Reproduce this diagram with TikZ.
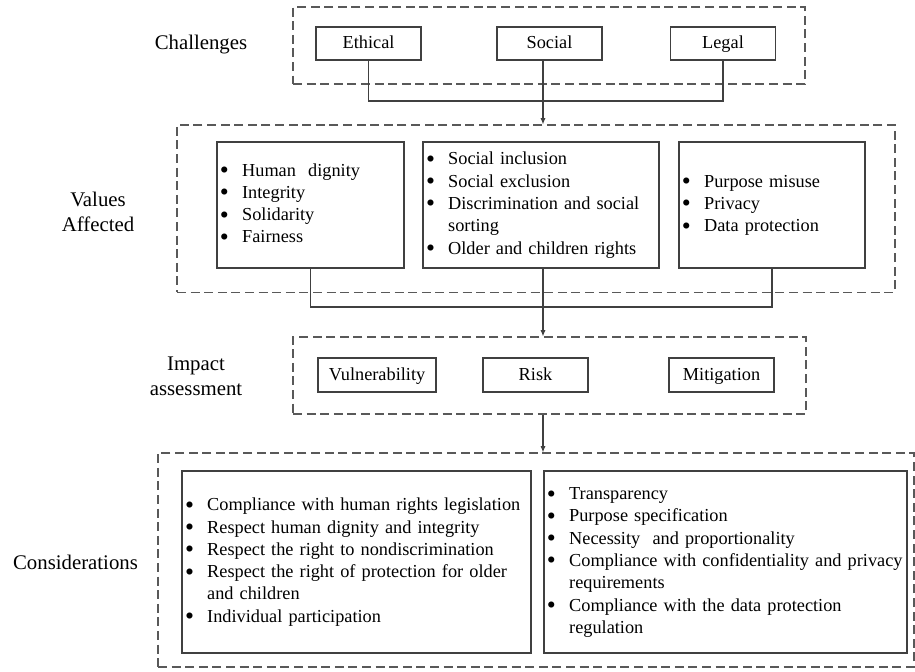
\documentclass[tikz,border=0pt]{standalone}
\usepackage{fontspec}
\setmainfont{Liberation Serif}
\usetikzlibrary{arrows.meta}
\definecolor{framec}{HTML}{404040}
\definecolor{groupc}{HTML}{595959}
\tikzset{
  group/.style={draw=groupc, line width=0.55pt, dash pattern=on 4.5pt off 2.3pt, inner sep=0pt},
  box/.style={draw=framec, line width=0.6pt, inner sep=0pt, font=\fontsize{9.15}{11.15}\selectfont},
  cell/.style={box, text height=1.55ex, text depth=0.45ex},
  listbox/.style={box, inner xsep=1.5pt, align=left, text width=#1},
  tag/.style={font=\fontsize{10.4}{12.5}\selectfont, align=center},
  link/.style={draw=framec, line width=0.55pt},
  flow/.style={link, -{Latex[length=3.2pt,width=2.6pt]}},
}
\newcommand{\bul}{\raisebox{-1.2pt}[1ex][0pt]{\scalebox{1.4}{\textbullet}}}
\newcommand{\bullets}[1]{\begin{tabular}{@{}l@{\hspace{6.6pt}}l@{}}#1\end{tabular}}

\begin{document}
\begin{tikzpicture}
\useasboundingbox (0,0) rectangle (16.079,11.792);
\node[group, minimum width=8.997cm, minimum height=1.353cm] (challenges) at (9.648,10.992) {};
\node[group, minimum width=12.617cm, minimum height=2.935cm] (values) at (9.419,8.127) {};
\node[group, minimum width=9.015cm, minimum height=1.353cm] (impact) at (9.656,5.193) {};
\node[group, minimum width=13.285cm, minimum height=3.761cm] (considerations) at (9.419,1.951) {};
\node[tag] (challengestag) at (3.532,11.001) {Challenges};
\node[tag] (valuestag) at (1.722,8.075) {Values\\Affected};
\node[tag] (impacttag) at (3.444,5.175) {Impact\\assessment};
\node[tag] (considerationstag) at (1.327,1.915) {Considerations};
\node[cell, minimum width=1.845cm, minimum height=0.580cm] (ethical) at (6.476,11.027) {Ethical};
\node[cell, minimum width=1.845cm, minimum height=0.580cm] (social) at (9.656,11.027) {Social};
\node[cell, minimum width=1.845cm, minimum height=0.580cm] (legal) at (12.705,11.027) {Legal};
\node[listbox=3.181cm, minimum height=2.214cm] (v1) at (5.456,8.189) {\bullets{\bul & Human~~dignity\\ \bul & Integrity\\ \bul & Solidarity\\ \bul & Fairness}};
\node[listbox=4.042cm, minimum height=2.214cm] (v2) at (9.507,8.189) {\bullets{\bul & Social inclusion\\ \bul & Social exclusion\\ \bul & Discrimination and social\\ & sorting\\ \bul & Older and children rights}};
\node[listbox=3.164cm, minimum height=2.214cm] (v3) at (13.566,8.189) {\bullets{\bul & Purpose misuse\\ \bul & Privacy\\ \bul & Data protection}};
\node[cell, minimum width=2.074cm, minimum height=0.597cm] (vulnerability) at (6.625,5.202) {Vulnerability};
\node[cell, minimum width=1.845cm, minimum height=0.597cm] (risk) at (9.410,5.202) {Risk};
\node[cell, minimum width=1.845cm, minimum height=0.597cm] (mitigation) at (12.679,5.202) {Mitigation};
\node[listbox=6.028cm, minimum height=3.198cm] (c1) at (6.265,1.915) {\bullets{\bul & Compliance with human rights legislation\\ \bul & Respect human dignity and integrity\\ \bul & Respect the right to nondiscrimination\\ \bul & Respect the right of protection for older\\ & and children\\ \bul & Individual participation}};
\node[listbox=6.274cm, minimum height=3.198cm] (c2) at (12.749,1.915) {\bullets{\bul & Transparency\\ \bul & Purpose specification\\ \bul & Necessity~~and proportionality\\ \bul & Compliance with confidentiality and privacy\\ & requirements\\ \bul & Compliance with the data protection\\ & regulation}};
\coordinate (spine) at (9.542,0);
\coordinate (topbus) at (9.542,10.017);
\coordinate (midbus) at (9.542,6.397);
\draw[link] (ethical.south) |- (topbus) -| (legal.south);
\draw[flow] (spine |- social.south) -- (spine |- values.north);
\draw[link] (v1.south) |- (midbus) -| (v3.south);
\draw[flow] (spine |- v2.south) -- (spine |- impact.north);
\draw[flow] (spine |- impact.south) -- (spine |- considerations.north);
\end{tikzpicture}
\end{document}
